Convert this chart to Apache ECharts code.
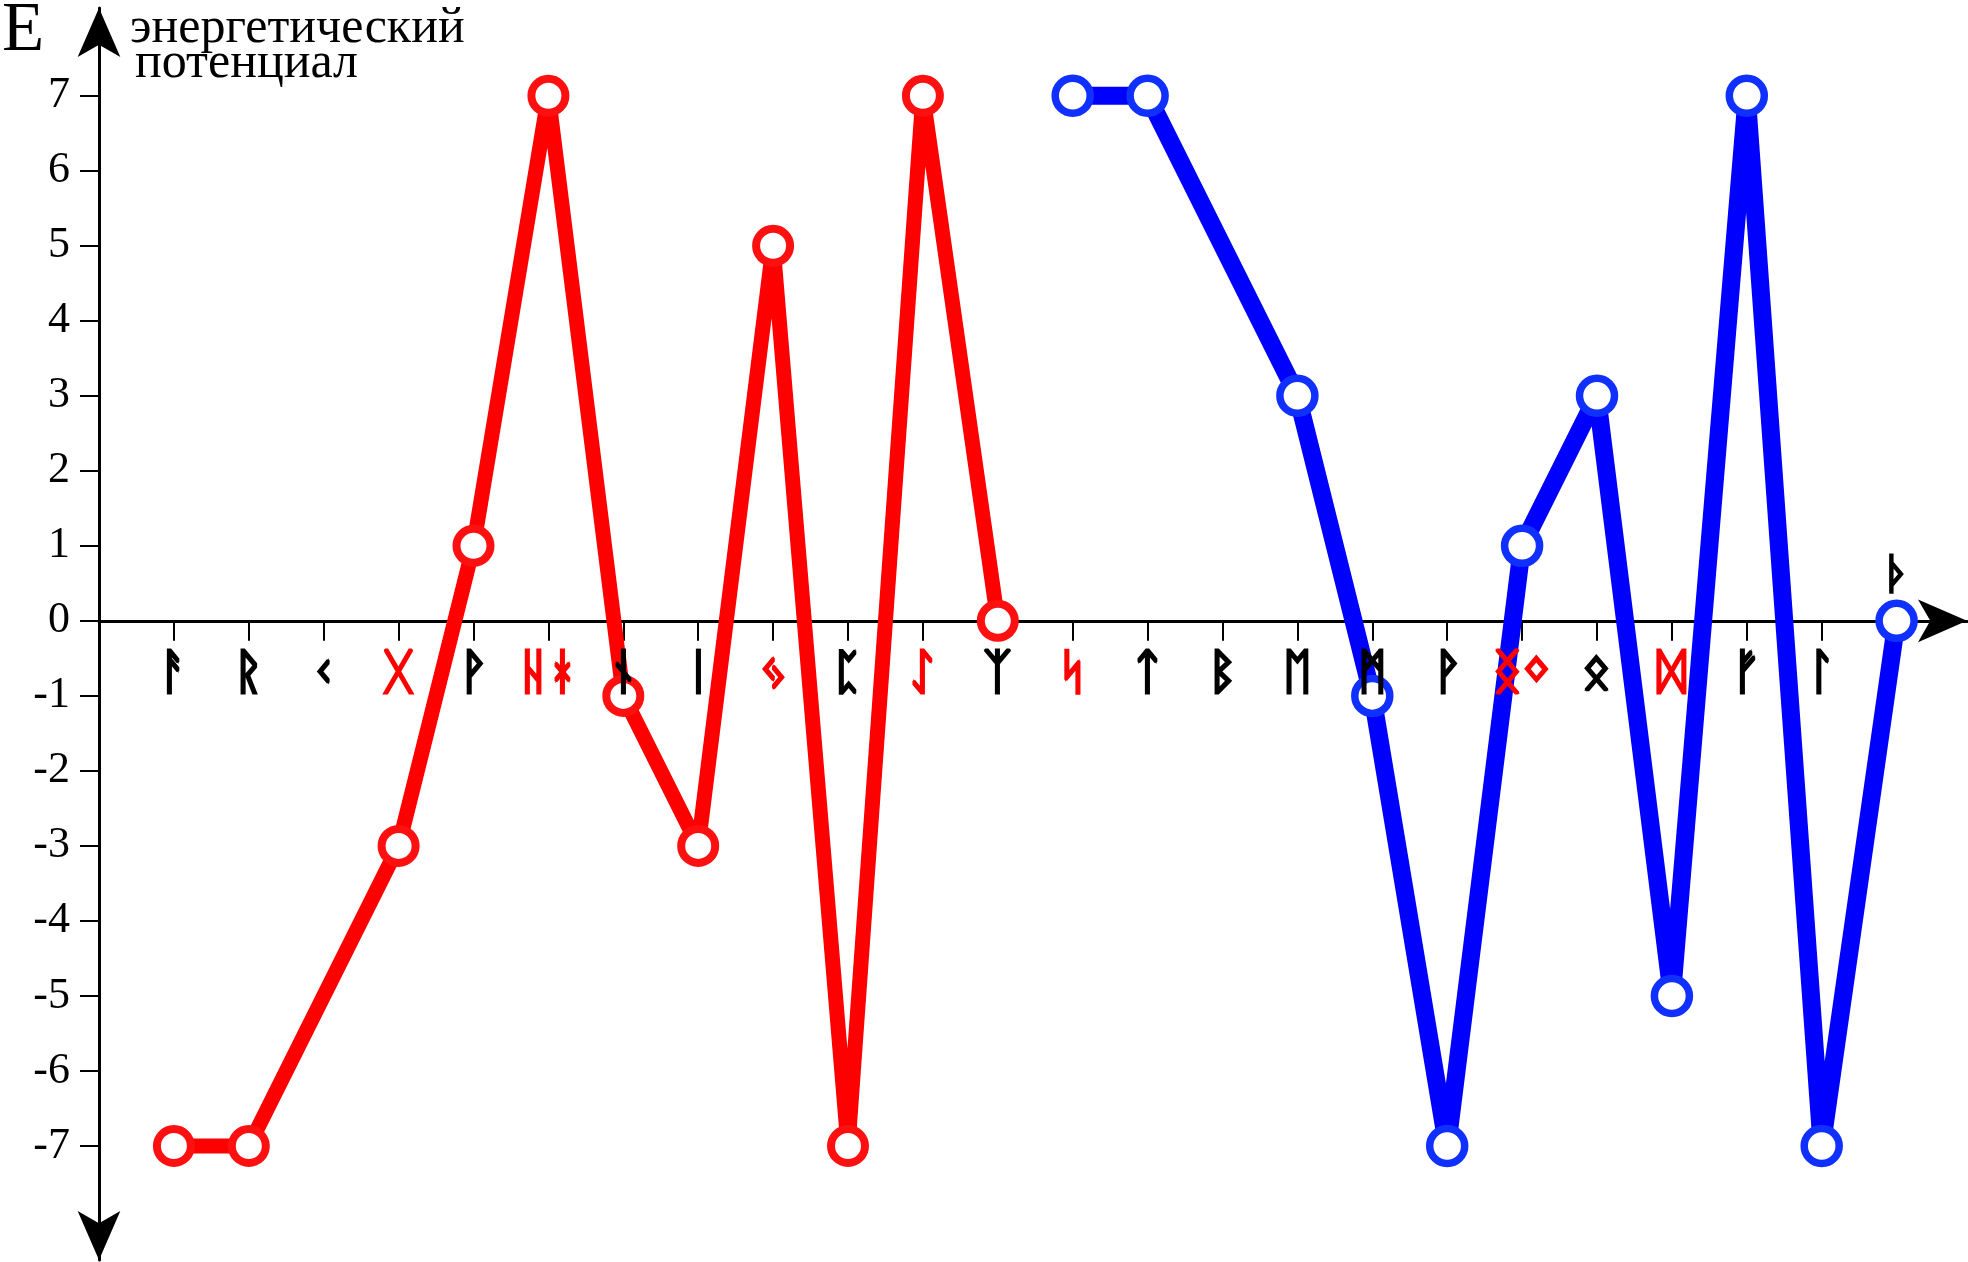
<!DOCTYPE html>
<html><head><meta charset="utf-8">
<script src="https://cdn.jsdelivr.net/npm/echarts@6/dist/echarts.min.js"></script>
<style>html,body{margin:0;padding:0;background:#fff}#c{width:1968px;height:1262px}</style>
</head><body><div id="c"></div>
<script>
// categories (rune per position 1..24)
const runes = ['ᚨ','ᚱ','ᚲ','ᚷ','ᚹ','ᚺᚼ','ᚾ','ᛁ','ᛃ','ᛈ','ᛇ','ᛉ','ᛋ','ᛏ','ᛒ','ᛖ','ᛗ','ᚹ','ᛝᛜ','ᛟ','ᛞ','ᚠ','ᛚ','ᚦ'];
// positions whose rune is drawn in red
const redRunePositions = [4, 6, 9, 11, 13, 19, 21];
// red series: positions 1..12 (null = no point)
const redValues = [-7, -7, null, -3, 1, 7, -1, -3, 5, -7, 7, 0];
// blue series: positions 13..24
const blueValues = [7, 7, null, 3, -1, -7, 1, 3, -5, 7, -7, 0];
// y tick values
const yTicks = [-7, -6, -5, -4, -3, -2, -1, 0, 1, 2, 3, 4, 5, 6, 7];
const xTicks = [1,2,3,4,5,6,7,8,9,10,11,12,13,14,15,16,17,18,19,20,21,22,23];
const titleE = 'E';
const titleLine1 = 'энергетический';
const titleLine2 = 'потенциал';

const redData = redValues.map((v, i) => [i + 1, v]).filter(d => d[1] !== null);
const blueData = blueValues.map((v, i) => [i + 13, v]).filter(d => d[1] !== null);

const runeFont = "'DejaVu Sans', 'Noto Sans', sans-serif";
const Y_MIN = -8.52, Y_MAX = 8.17;
const GRID_TOP = 8, GRID_BOTTOM = 2, H = 1262;
const plotH = H - GRID_TOP - GRID_BOTTOM;
const zeroOffset = -(plotH * (0 - Y_MIN) / (Y_MAX - Y_MIN));

const runeFormatter = v => { const i = Math.round(v); const r = runes[i - 1]; if (!r || i >= 24) return ''; return (redRunePositions.includes(i) ? '{r|' : '{k|') + r + '}'; };
const runeRich = {
  r: { color: '#ff0000', fontSize: 48, fontWeight: 'bold', fontFamily: runeFont, textBorderColor: '#ff0000', textBorderWidth: 1.6 },
  k: { color: '#000', fontSize: 48, fontWeight: 'bold', fontFamily: runeFont, textBorderColor: '#000', textBorderWidth: 1.6 }
};

const chart = echarts.init(document.getElementById('c'));
chart.setOption({
  animation: false,
  backgroundColor: '#fff',
  title: [
    { text: titleE, left: -3, top: -8, textStyle: { fontFamily: 'Liberation Serif', fontSize: 69, fontWeight: 'normal', color: '#000' } },
    { text: titleLine1, left: 125, top: -1, textStyle: { fontFamily: 'Liberation Serif', fontSize: 50, fontWeight: 'normal', color: '#000' } },
    { text: titleLine2, left: 130, top: 34, textStyle: { fontFamily: 'Liberation Serif', fontSize: 50, fontWeight: 'normal', color: '#000' } }
  ],
  grid: { left: 99, right: 1, top: GRID_TOP, bottom: GRID_BOTTOM, containLabel: false, outerBoundsMode: 'none' },
  xAxis: [
    {
      type: 'value', min: 0, max: 24.94, position: 'bottom', offset: zeroOffset,
      axisLine: { onZero: false, lineStyle: { color: '#000', width: 3 }, symbol: ['none', 'arrow'], symbolSize: [32, 49], symbolOffset: [0, 0] },
      axisTick: { show: true, inside: false, length: 20, lineStyle: { color: '#000', width: 2 }, customValues: xTicks },
      axisLabel: { show: false },
      splitLine: { show: false }
    },
    {
      type: 'value', min: 0, max: 24.94, position: 'bottom', offset: zeroOffset, z: 10,
      axisLine: { show: false, onZero: false },
      axisTick: { show: false },
      axisLabel: { show: true, margin: 31, customValues: xTicks, hideOverlap: false, formatter: runeFormatter, rich: runeRich },
      splitLine: { show: false }
    }
  ],
  yAxis: {
    type: 'value', min: Y_MIN, max: Y_MAX,
    axisLine: { show: true, onZero: false, lineStyle: { color: '#000', width: 3 }, symbol: ['arrow', 'arrow'], symbolSize: [32, 49], symbolOffset: [0, 0] },
    axisTick: { show: true, length: 19, lineStyle: { color: '#000', width: 2 }, customValues: yTicks },
    axisLabel: {
      show: true, margin: 29, customValues: yTicks, color: '#000', hideOverlap: false,
      fontFamily: 'Liberation Serif', fontSize: 44,
      formatter: v => v < 0 ? '-' + (-v) : String(v)
    },
    splitLine: { show: false }
  },
  series: [
    {
      type: 'line', data: redData, z: 3,
      lineStyle: { color: '#ff0000', width: 15 },
      symbol: 'circle', symbolSize: 34,
      itemStyle: { color: '#fff', borderColor: '#ff1010', borderWidth: 8 }
    },
    {
      type: 'line', data: blueData, z: 3,
      lineStyle: { color: '#0000ff', width: 18 },
      symbol: 'circle', symbolSize: 35,
      itemStyle: { color: '#fff', borderColor: '#1030ff', borderWidth: 7.5 },
      label: {
        show: true, position: 'top', distance: 2, fontSize: 42, fontWeight: 'bold', fontFamily: runeFont, color: '#000',
        textBorderColor: '#000', textBorderWidth: 1.4,
        formatter: p => p.dataIndex === blueData.length - 1 ? runes[p.data[0] - 1] : ''
      }
    }
  ]
});
</script></body></html>
